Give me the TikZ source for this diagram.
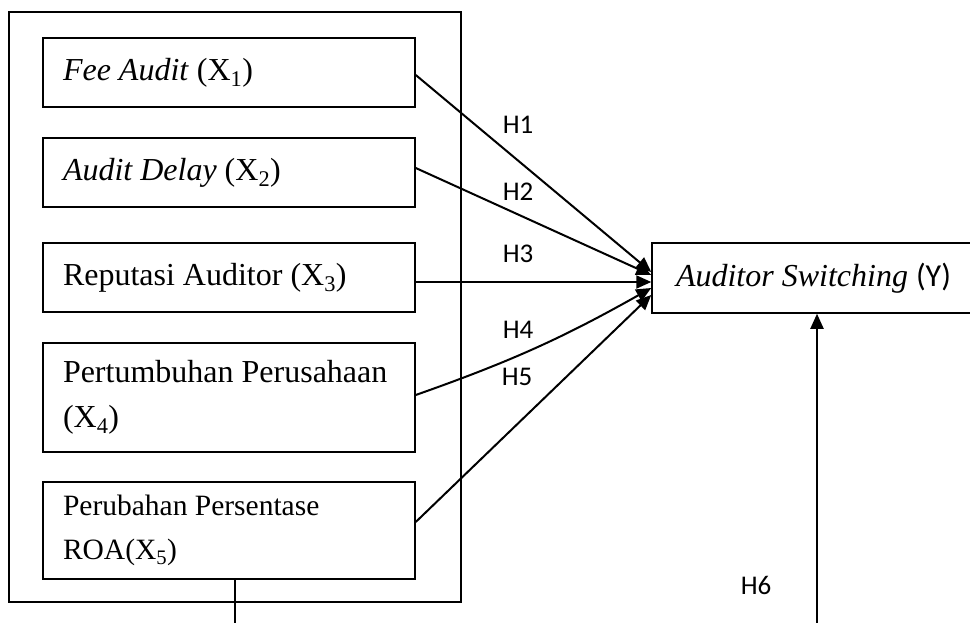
\documentclass[tikz,border=0pt]{standalone}
\usepackage{fontspec}
\setmainfont{Liberation Serif}
\newfontfamily\calibri{Carlito}
\usetikzlibrary{arrows.meta, positioning}

\begin{document}
\begin{tikzpicture}[
  x=1pt, y=-1pt,
  >={Triangle[length=15pt, width=13pt]},
  varbox/.style={
    draw, line width=1.5pt, minimum width=372pt, minimum height=#1,
    text width=332pt, align=flush left, inner sep=0pt,
    font=\fontsize{32}{45}\selectfont
  },
  arr/.style={->, line width=2pt},
  hlbl/.style={font=\calibri\fontsize{27}{32}\selectfont, inner sep=0pt},
]

% Background
\fill[white] (0,0) rectangle (970,623);
\useasboundingbox (0,0) rectangle (970,623);

% =============================================
% Outer frame
% =============================================
\node[draw, line width=1.5pt, minimum width=452pt, minimum height=590pt]
  (frame) at (235,307) {};

% =============================================
% Independent variables
% =============================================
\node[varbox=69pt] (fee) at (229,72.5)
  {\textit{Fee Audit} (X\textsubscript{1})};

\node[varbox=69pt] (delay) at (229,172.5)
  {\textit{Audit Delay} (X\textsubscript{2})};

\node[varbox=69pt] (reputasi) at (229,277.5)
  {Reputasi Auditor (X\textsubscript{3})};

\node[varbox=109pt] (tumbuh) at (229,397.5)
  {Pertumbuhan Perusahaan\\(X\textsubscript{4})};

\node[varbox=97pt, font=\fontsize{29.5}{44}\selectfont] (roa) at (229,530.5)
  {Perubahan Persentase\\ROA(X\textsubscript{5})};

% =============================================
% Dependent variable
% =============================================
\node[draw, line width=1.5pt, minimum width=340pt, minimum height=70pt,
      text width=292pt, align=flush left, inner sep=0pt,
      font=\fontsize{32}{38}\selectfont]
  (switching) at (822,278)
  {\textit{Auditor Switching} {\calibri\fontsize{32}{38}\selectfont (Y)}};

% =============================================
% Hypothesis labels
% =============================================
\node[hlbl] (h1) at (518,125) {H1};
\node[hlbl] (h2) at (518,192) {H2};
\node[hlbl] (h3) at (518,254) {H3};
\node[hlbl] (h4) at (518,330) {H4};
\node[hlbl] (h5) at (517,377) {H5};
\node[hlbl] (h6) at (756,585) {H6};

% =============================================
% Arrows
% =============================================
\draw[arr] ([yshift=-2.5pt]fee.east) -- ([yshift=6pt]switching.west);
\draw[arr] ([yshift=4.5pt]delay.east) -- ([yshift=3pt]switching.west);
\draw[arr] ([yshift=-4.5pt]reputasi.east) -- ([yshift=-4pt]switching.west);
\draw[arr] ([yshift=2.5pt]tumbuh.east) to[bend right=5] ([yshift=-10pt]switching.west);
\draw[arr] ([yshift=8.5pt]roa.east) -- ([yshift=-17pt]switching.west);

% lines running off the bottom edge
\coordinate (roa-out) at (235,623);
\coordinate (h6-in) at (817,623);
\draw[line width=2pt] ([xshift=6pt]roa.south) -- (roa-out);
\draw[arr] (h6-in) -- (h6-in |- switching.south);

\end{tikzpicture}
\end{document}
